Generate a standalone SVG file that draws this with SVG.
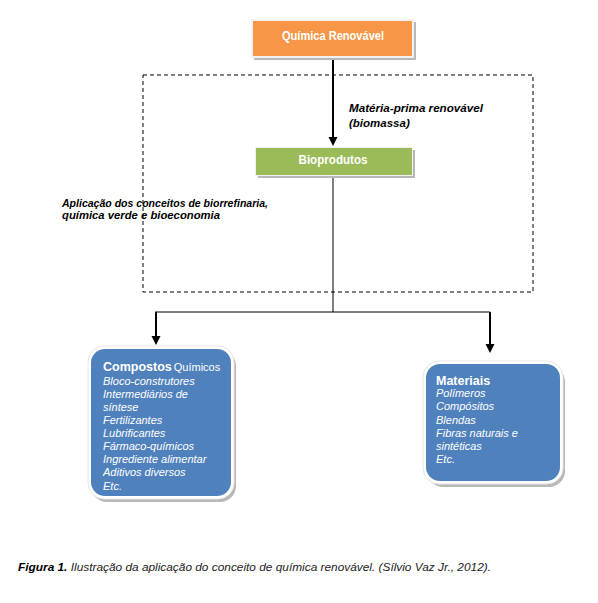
<svg xmlns="http://www.w3.org/2000/svg" width="598" height="603" viewBox="0 0 598 603">
<style>
.t{font-family:"Liberation Sans",Arial,sans-serif}
.w{fill:#fff}
.item{font-size:11px;font-style:italic;fill:#fff}
.lbl{font-size:11.5px;font-style:italic;font-weight:bold;fill:#000}
.shadow{fill:#b8b8b8}
</style>
<defs>
<marker id="ah" markerWidth="8" markerHeight="8" refX="4" refY="7" orient="auto" markerUnits="userSpaceOnUse">
<path d="M0,0 L8,0 L4,8 Z" fill="#000" transform="rotate(-90 4 4)"/>
</marker>
</defs>
<rect width="598" height="603" fill="#fff"/>
<g id="scope">
<rect x="143" y="75" width="390" height="217" fill="none" stroke="#000" stroke-width="1" stroke-dasharray="4,3"/>
</g>
<g id="connectors">
<line x1="333" y1="58" x2="333" y2="138" stroke="#000" stroke-width="2"/>
<path d="M328.5,137 L337.5,137 L333,146 Z" fill="#000"/>
<line x1="333" y1="175" x2="333" y2="312" stroke="#000" stroke-width="1"/>
<line x1="155" y1="312" x2="490" y2="312" stroke="#000" stroke-width="1"/>
<line x1="156" y1="312" x2="156" y2="337" stroke="#000" stroke-width="2"/>
<path d="M151.5,336 L160.5,336 L156,345 Z" fill="#000"/>
<line x1="490" y1="312" x2="490" y2="345" stroke="#000" stroke-width="2"/>
<path d="M485.5,344 L494.5,344 L490,353 Z" fill="#000"/>
</g>
<g id="quimica-renovavel">
<rect x="254" y="22" width="162" height="38" class="shadow"/>
<rect x="251" y="19" width="163" height="39" fill="#f2f2f2"/>
<rect x="253" y="21" width="159" height="35" fill="#f79646"/>
<text x="333" y="39.5" text-anchor="middle" class="t w" font-size="12" font-weight="bold" textLength="102" lengthAdjust="spacingAndGlyphs">Química Renovável</text>
</g>
<g id="bioprodutos">
<rect x="258" y="150" width="157" height="28" class="shadow"/>
<rect x="255" y="147" width="158" height="29" fill="#f2f2f2"/>
<rect x="256" y="148" width="156" height="27" fill="#9bbb59"/>
<text x="333" y="163.5" text-anchor="middle" class="t w" font-size="12" font-weight="bold" textLength="69" lengthAdjust="spacingAndGlyphs">Bioprodutos</text>
</g>
<g id="label-materia">
<text class="t lbl" x="349" y="112" textLength="134" lengthAdjust="spacingAndGlyphs">Matéria-prima renovável</text>
<text class="t lbl" x="349" y="127">(biomassa)</text>
</g>
<g id="label-aplicacao">
<text class="t lbl" x="62" y="207" textLength="206" lengthAdjust="spacingAndGlyphs">Aplicação dos conceitos de biorrefinaria,</text>
<text class="t lbl" x="62" y="219" textLength="158" lengthAdjust="spacingAndGlyphs">química verde e bioeconomia</text>
</g>
<g id="compostos">
<rect x="91" y="350" width="145" height="152" rx="16" class="shadow"/>
<rect x="88" y="346" width="146" height="153" rx="16" fill="#fff" stroke="#e6e6e6" stroke-width="1"/>
<rect x="91" y="349" width="140" height="147" rx="14" fill="#4f81bd"/>
<text class="t w" x="103" y="371" font-size="12.5"><tspan font-weight="bold">Compostos</tspan><tspan font-size="11" dx="2">Químicos</tspan></text>
<text class="t item" x="103" y="385">Bloco-construtores</text>
<text class="t item" x="103" y="398">Intermediários de</text>
<text class="t item" x="103" y="411">síntese</text>
<text class="t item" x="103" y="424">Fertilizantes</text>
<text class="t item" x="103" y="437">Lubrificantes</text>
<text class="t item" x="103" y="450">Fármaco-químicos</text>
<text class="t item" x="103" y="463">Ingrediente alimentar</text>
<text class="t item" x="103" y="476">Aditivos diversos</text>
<text class="t item" x="103" y="490">Etc.</text>
</g>
<g id="materiais">
<rect x="427" y="366" width="138" height="121" rx="16" class="shadow"/>
<rect x="423" y="361" width="140" height="123" rx="16" fill="#fff" stroke="#e6e6e6" stroke-width="1"/>
<rect x="426" y="364" width="134" height="117" rx="14" fill="#4f81bd"/>
<text class="t w" x="436" y="385" font-size="12.5" font-weight="bold">Materiais</text>
<text class="t item" x="436" y="397">Polímeros</text>
<text class="t item" x="436" y="410">Compósitos</text>
<text class="t item" x="436" y="424">Blendas</text>
<text class="t item" x="436" y="437">Fibras naturais e</text>
<text class="t item" x="436" y="450">sintéticas</text>
<text class="t item" x="436" y="463">Etc.</text>
</g>
<g id="caption">
<text class="t" x="18" y="571" font-size="11" textLength="473" lengthAdjust="spacingAndGlyphs"><tspan font-weight="bold" font-style="italic">Figura 1.</tspan><tspan font-style="italic" fill="#222"> Ilustração da aplicação do conceito de química renovável. (Sílvio Vaz Jr., 2012).</tspan></text>
</g>
</svg>
